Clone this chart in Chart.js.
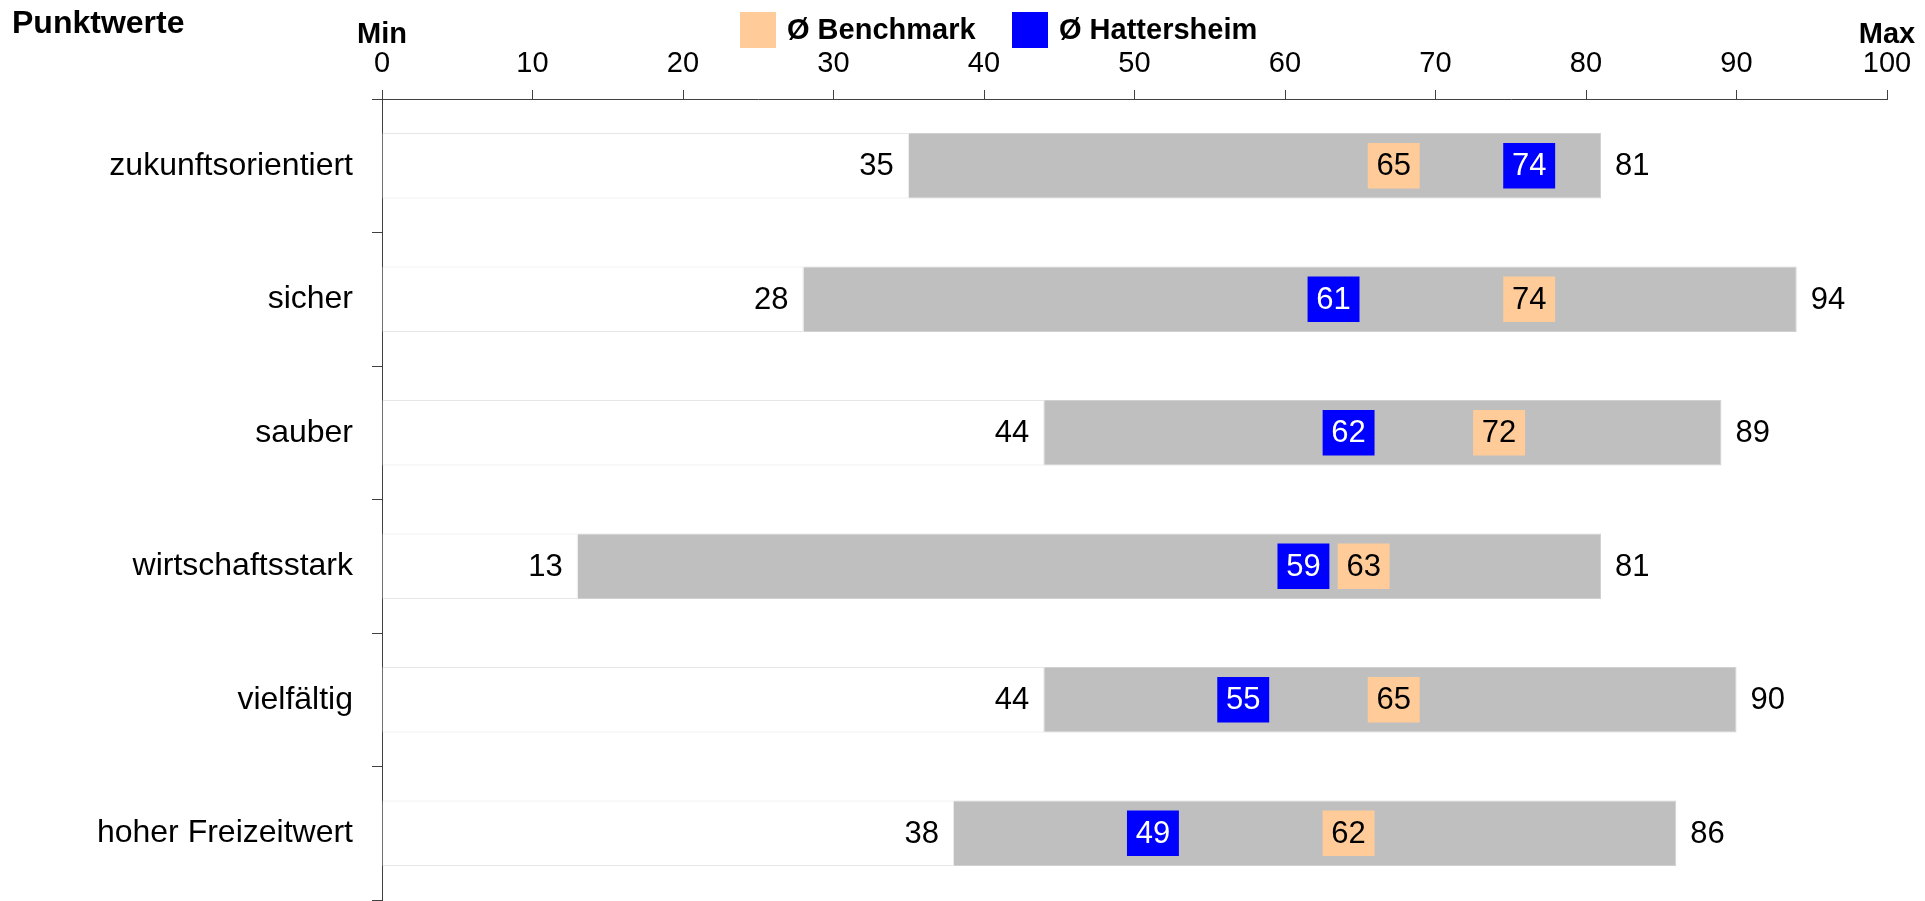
<!DOCTYPE html>
<html>
<head>
<meta charset="utf-8">
<title>Punktwerte</title>
<script src="https://cdn.jsdelivr.net/npm/chart.js@4.4.1/dist/chart.umd.min.js"></script>
<style>
  html, body { margin: 0; padding: 0; background: #fff; }
</style>
</head>
<body>
<canvas id="chart" width="1925" height="901"></canvas>
<script>
// Daten
const categories = ['zukunftsorientiert', 'sicher', 'sauber', 'wirtschaftsstark', 'vielfältig', 'hoher Freizeitwert'];
const minValues = [35, 28, 44, 13, 44, 38];
const maxValues = [81, 94, 89, 81, 90, 86];
const benchmark = [65, 74, 72, 63, 65, 62];
const hattersheim = [74, 61, 62, 59, 55, 49];
const xTicks = [0, 10, 20, 30, 40, 50, 60, 70, 80, 90, 100];

// Marker: kleines Kästchen, das beim Wert beginnt
const MARKER_OFFSET = 0.5;
const MARKER_WIDTH = 3.45;

const FONT = '"Liberation Sans", Arial, sans-serif';
const AXIS_COLOR = '#404040';

// Beschriftungen der Werte (Min, Max, Marker)
const valueLabels = {
  id: 'valueLabels',
  afterDatasetsDraw(chart) {
    const { ctx, scales: { x, y } } = chart;
    ctx.save();
    ctx.font = '31px ' + FONT;
    ctx.textBaseline = 'middle';
    categories.forEach((c, i) => {
      const yc = y.getPixelForValue(i) + 1;
      ctx.fillStyle = '#000';
      ctx.textAlign = 'right';
      ctx.fillText(String(minValues[i]), x.getPixelForValue(minValues[i]) - 15, yc);
      ctx.textAlign = 'left';
      ctx.fillText(String(maxValues[i]), x.getPixelForValue(maxValues[i]) + 14, yc);
      ctx.textAlign = 'center';
      ctx.fillText(String(benchmark[i]), x.getPixelForValue(benchmark[i] + MARKER_OFFSET + MARKER_WIDTH / 2), yc);
      ctx.fillStyle = '#fff';
      ctx.fillText(String(hattersheim[i]), x.getPixelForValue(hattersheim[i] + MARKER_OFFSET + MARKER_WIDTH / 2), yc);
    });
    ctx.restore();
  }
};

// Titel, Min/Max und Legende
const headerPlugin = {
  id: 'header',
  afterDraw(chart) {
    const { ctx, scales: { x } } = chart;
    ctx.save();
    ctx.fillStyle = '#000';
    ctx.textBaseline = 'middle';
    ctx.font = 'bold 32px ' + FONT;
    ctx.textAlign = 'left';
    ctx.fillText('Punktwerte', 12, 24);
    ctx.font = 'bold 29px ' + FONT;
    ctx.textAlign = 'center';
    ctx.fillText('Min', x.getPixelForValue(0), 35);
    ctx.fillText('Max', x.getPixelForValue(100), 35);

    // Legende
    const items = [
      { text: 'Ø Benchmark', color: '#FFCC99', left: 740 },
      { text: 'Ø Hattersheim', color: '#0000FF', left: 1012 }
    ];
    ctx.textAlign = 'left';
    items.forEach(it => {
      ctx.fillStyle = it.color;
      ctx.fillRect(it.left, 12, 36, 36);
      ctx.fillStyle = '#000';
      ctx.fillText(it.text, it.left + 47, 31);
    });
    ctx.restore();
  }
};

const ctx = document.getElementById('chart').getContext('2d');

const chart = new Chart(ctx, {
  type: 'bar',
  data: {
    labels: categories,
    datasets: [
      {
        label: 'Ø Hattersheim',
        data: hattersheim.map(v => [v + MARKER_OFFSET, v + MARKER_OFFSET + MARKER_WIDTH]),
        backgroundColor: '#0000FF',
        barPercentage: 0.34,
        order: 0
      },
      {
        label: 'Ø Benchmark',
        data: benchmark.map(v => [v + MARKER_OFFSET, v + MARKER_OFFSET + MARKER_WIDTH]),
        backgroundColor: '#FFCC99',
        barPercentage: 0.34,
        order: 0
      },
      {
        label: 'Spannweite',
        data: minValues.map((v, i) => [v, maxValues[i]]),
        backgroundColor: '#BFBFBF',
        borderColor: '#D0D0D0',
        borderWidth: 1,
        barPercentage: 0.49,
        order: 1
      },
      {
        label: 'unter Min',
        data: minValues.map(v => [0, v]),
        backgroundColor: '#FFFFFF',
        borderColor: '#E6E6E6',
        borderWidth: 1,
        barPercentage: 0.49,
        order: 2
      }
    ]
  },
  options: {
    indexAxis: 'y',
    responsive: false,
    animation: false,
    datasets: {
      bar: { grouped: false, categoryPercentage: 1 }
    },
    layout: { padding: { top: 0, right: 38, bottom: 1, left: 0 } },
    plugins: {
      legend: { display: false },
      tooltip: { enabled: false }
    },
    scales: {
      x: {
        position: 'top',
        min: 0,
        max: 100,
        afterFit: s => { s.height = 99; },
        afterBuildTicks: s => { s.ticks = xTicks.map(v => ({ value: v })); },
        ticks: {
          color: '#000',
          padding: 9,
          maxRotation: 0,
          font: { family: FONT, size: 29 }
        },
        grid: {
          drawOnChartArea: false,
          tickLength: 9,
          tickColor: AXIS_COLOR,
          tickWidth: 1
        },
        border: { color: AXIS_COLOR, width: 1 }
      },
      y: {
        afterFit: s => {
          s.width = 382;
          s.paddingTop = 0;
          s.paddingBottom = 0;
        },
        ticks: {
          color: '#000',
          padding: 19,
          font: { family: FONT, size: 32 }
        },
        grid: {
          offset: true,
          drawOnChartArea: false,
          tickLength: 10,
          tickColor: AXIS_COLOR,
          tickWidth: 1
        },
        border: { color: AXIS_COLOR, width: 1 }
      }
    }
  },
  plugins: [valueLabels, headerPlugin]
});
</script>
</body>
</html>
